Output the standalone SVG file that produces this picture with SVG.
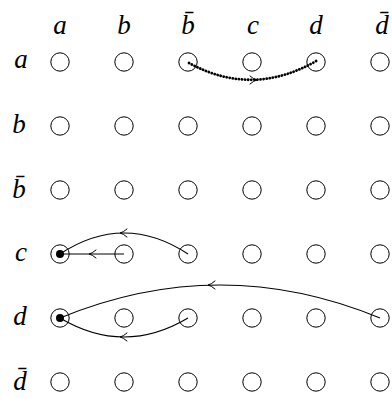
<svg xmlns="http://www.w3.org/2000/svg" width="392" height="398" viewBox="0 0 392 398">
<style>
.lbl{font-family:"Liberation Serif","DejaVu Serif",serif;font-style:italic;font-size:27px;fill:#000;text-anchor:middle}
.n{fill:#fff;stroke:#000;stroke-width:1}
.e{fill:none;stroke:#000;stroke-width:1.1}
.dot{fill:none;stroke:#000;stroke-width:2.8;stroke-dasharray:0.1 3;stroke-linecap:round}
.ah{fill:none;stroke:#000;stroke-width:1;stroke-linecap:round}
</style>
<rect width="392" height="398" fill="#fff"/>
<g id="labels">
<text class="lbl" x="60" y="34">a</text>
<text class="lbl" x="124" y="34">b</text>
<text class="lbl" x="188" y="34">b̄</text>
<text class="lbl" x="253" y="34">c</text>
<text class="lbl" x="316" y="34">d</text>
<text class="lbl" x="382" y="34">d̄</text>
<text class="lbl" x="21" y="68">a</text>
<text class="lbl" x="19" y="133">b</text>
<text class="lbl" x="19" y="198">b̄</text>
<text class="lbl" x="21" y="261">c</text>
<text class="lbl" x="20" y="325">d</text>
<text class="lbl" x="20" y="390">d̄</text>
</g>
<g id="nodes">
<g id="n-a-a"><circle class="n" cx="60" cy="62" r="9.2"/></g>
<g id="n-a-b"><circle class="n" cx="124" cy="62" r="9.2"/></g>
<g id="n-a-bb"><circle class="n" cx="188" cy="62" r="9.2"/></g>
<g id="n-a-c"><circle class="n" cx="252" cy="62" r="9.2"/></g>
<g id="n-a-d"><circle class="n" cx="316" cy="62" r="9.2"/></g>
<g id="n-a-db"><circle class="n" cx="380" cy="62" r="9.2"/></g>
<g id="n-b-a"><circle class="n" cx="60" cy="126" r="9.2"/></g>
<g id="n-b-b"><circle class="n" cx="124" cy="126" r="9.2"/></g>
<g id="n-b-bb"><circle class="n" cx="188" cy="126" r="9.2"/></g>
<g id="n-b-c"><circle class="n" cx="252" cy="126" r="9.2"/></g>
<g id="n-b-d"><circle class="n" cx="316" cy="126" r="9.2"/></g>
<g id="n-b-db"><circle class="n" cx="380" cy="126" r="9.2"/></g>
<g id="n-bb-a"><circle class="n" cx="60" cy="190" r="9.2"/></g>
<g id="n-bb-b"><circle class="n" cx="124" cy="190" r="9.2"/></g>
<g id="n-bb-bb"><circle class="n" cx="188" cy="190" r="9.2"/></g>
<g id="n-bb-c"><circle class="n" cx="252" cy="190" r="9.2"/></g>
<g id="n-bb-d"><circle class="n" cx="316" cy="190" r="9.2"/></g>
<g id="n-bb-db"><circle class="n" cx="380" cy="190" r="9.2"/></g>
<g id="n-c-a"><circle class="n" cx="60" cy="254" r="9.2"/><circle cx="60" cy="254" r="4" fill="#000"/></g>
<g id="n-c-b"><circle class="n" cx="124" cy="254" r="9.2"/></g>
<g id="n-c-bb"><circle class="n" cx="188" cy="254" r="9.2"/></g>
<g id="n-c-c"><circle class="n" cx="252" cy="254" r="9.2"/></g>
<g id="n-c-d"><circle class="n" cx="316" cy="254" r="9.2"/></g>
<g id="n-c-db"><circle class="n" cx="380" cy="254" r="9.2"/></g>
<g id="n-d-a"><circle class="n" cx="60" cy="318" r="9.2"/><circle cx="60" cy="318" r="4" fill="#000"/></g>
<g id="n-d-b"><circle class="n" cx="124" cy="318" r="9.2"/></g>
<g id="n-d-bb"><circle class="n" cx="188" cy="318" r="9.2"/></g>
<g id="n-d-c"><circle class="n" cx="252" cy="318" r="9.2"/></g>
<g id="n-d-d"><circle class="n" cx="316" cy="318" r="9.2"/></g>
<g id="n-d-db"><circle class="n" cx="380" cy="318" r="9.2"/></g>
<g id="n-db-a"><circle class="n" cx="60" cy="382" r="9.2"/></g>
<g id="n-db-b"><circle class="n" cx="124" cy="382" r="9.2"/></g>
<g id="n-db-bb"><circle class="n" cx="188" cy="382" r="9.2"/></g>
<g id="n-db-c"><circle class="n" cx="252" cy="382" r="9.2"/></g>
<g id="n-db-d"><circle class="n" cx="316" cy="382" r="9.2"/></g>
<g id="n-db-db"><circle class="n" cx="380" cy="382" r="9.2"/></g>
</g>
<g id="connectors">
<path class="dot" d="M189 63 Q253 98 318 60"/>
<path class="ah" d="M250 76 Q254 79.5 257 80 Q254 80.5 250 84"/>
<path class="e" d="M188 254 Q124 212 60 254"/>
<path class="ah" d="M127 229 Q123 232.5 120 233 Q123 233.5 127 237"/>
<path class="e" d="M124 254 L60 254"/>
<path class="ah" d="M96 250 Q92 253.5 89 254 Q92 254.5 96 258"/>
<path class="e" d="M380 318 Q220 252 60 318"/>
<path class="ah" d="M215 281 Q211 284.5 208 285 Q211 285.5 215 289"/>
<path class="e" d="M188 318 Q124 356 60 318"/>
<path class="ah" d="M127 333 Q123 336.5 120 337 Q123 337.5 127 341"/>
</g>
</svg>
